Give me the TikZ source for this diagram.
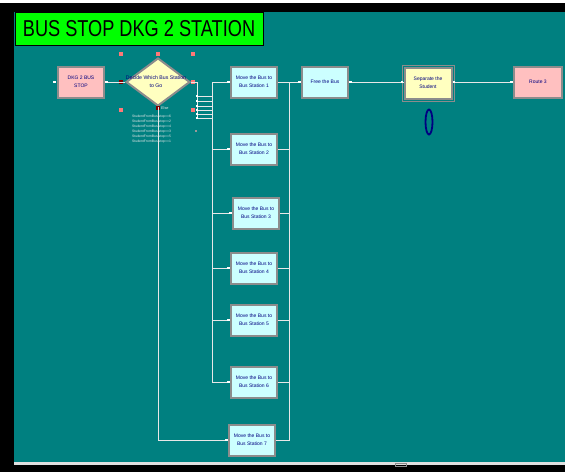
\documentclass[tikz,border=0pt]{standalone}
\usepackage{fontspec}
\setmainfont{Liberation Sans}
\usetikzlibrary{shapes.geometric,calc}
\definecolor{arteal}{HTML}{008080}
\definecolor{argreen}{HTML}{00FF00}
\definecolor{arpink}{HTML}{FFC0C0}
\definecolor{arcyan}{HTML}{CCFFFF}
\definecolor{aryellow}{HTML}{FFFFC0}
\definecolor{arblue}{HTML}{000080}
\definecolor{arframe}{HTML}{8C8C8C}
\definecolor{arline}{HTML}{E8E8E8}
\definecolor{arhandle}{HTML}{FF7878}
\tikzset{
  modbox/.style={draw=arframe,line width=2pt,minimum width=46pt,minimum height=31pt,
    inner sep=0pt,align=center,text=arblue,font=\fontsize{5}{8}\selectfont},
  movebox/.style={modbox,fill=arcyan},
  pinkbox/.style={modbox,fill=arpink},
  sepbox/.style={modbox,fill=aryellow,minimum width=47pt},
  decbox/.style={diamond,draw=arframe,line width=2pt,fill=aryellow,inner sep=0pt,
    minimum width=64pt,minimum height=48pt},
  declbl/.style={text=arblue,font=\fontsize{5.2}{8}\selectfont,align=center,inner sep=0pt},
  conn/.style={draw=arline,line width=0.9pt},
  port/.style={fill=white,minimum size=2.2pt,inner sep=0pt},
  handle/.style={fill=arhandle,minimum size=3.5pt,inner sep=0pt},
  condlbl/.style={text=arline,font=\fontsize{3.4}{4}\selectfont,inner sep=0pt,anchor=west},
}
\begin{document}
\begin{tikzpicture}[x=1pt,y=-1pt]
\useasboundingbox (0,0) rectangle (565,472);
% window frame
\fill[white] (0,0) rectangle (565,472);
\fill[black] (0,3) rectangle (565,472);
\fill[arteal] (14,12) rectangle (565,462);
\fill[black!12] (14,462) rectangle (565,465);
\draw[black!45,line width=0.6pt] (395,463) rectangle (406,466);
% title
\draw[fill=argreen,draw=black,line width=0.8pt] (15,12) rectangle (263,45);
\node[font=\fontsize{23}{23}\selectfont,inner sep=0pt] (title) at (139,28.5) {\scalebox{0.79}[1]{BUS STOP DKG 2 STATION}};
% modules
\node[pinkbox] (dkg) at (81,82) {DKG 2 BUS\\STOP};
\node[decbox] (dec) at (158,82) {};
\node[declbl] (declabel) at (156,82) {Decide Which Bus Station\\to Go};
\foreach \n/\xx/\yy in {1/254/82,2/254/149,3/256/213,4/254/268,5/254/320,6/254/382,7/252/440}{
  \node[movebox] (st\n) at (\xx,\yy) {Move the Bus to\\Bus Station \n};
}
\node[movebox] (free) at (325,82) {Free the Bus};
\node[sepbox] (sep) at (428,83) {Separate the\\Student};
\draw[arframe,line width=1pt] ($(sep.north west)+(-1.5,-1.5)$) -- ($(sep.north east)+(1.5,-1.5)$)
  -- ($(sep.south east)+(1.5,1.5)$) -- ($(sep.south west)+(-1.5,1.5)$) -- cycle;
\node[pinkbox,minimum width=48pt] (route) at (538,82) {Route 3};
\node[ellipse,draw=arblue,line width=1.8pt,minimum width=7pt,minimum height=25pt,inner sep=0pt] (count) at (429,122) {};
% selection handles of the decide module
\foreach \hx/\hy in {121/54,158/54,193/54,193/82,121/110,193/110}{
  \node[handle] at (\hx,\hy) {};
}
\node[handle,fill=red!50!black] (hleft) at (121,82) {};
\node[handle,fill=red!50!black] (hbot) at (158,108) {};
% conditions
\node[condlbl,font=\fontsize{3.8}{4}\selectfont] (elselbl) at (161,108) {Else};
\foreach \i/\c in {0/6,1/2,2/4,3/3,4/5,5/1}{
  \node[condlbl] (cond\c) at (132,117+5*\i) {StudentFromBus.stop==\c};
}
% connectors
\coordinate (dout) at (197,82);
\coordinate (fork) at (212,82);
\coordinate (join) at (289,82);
\draw[conn] (dkg.east) -- (dec.west);
\draw[conn] (dec.east) -- (dout) -- (197,119);
\foreach \yy in {96,101,106,110,114,118}{
  \draw[conn] (197,\yy) -- (212,\yy);
  \node[port] at (197,\yy) {};
}
\node[fill=black!40,minimum size=1.5pt,inner sep=0pt] (dot) at (196,131) {};
\foreach \n in {1,...,6}{
  \draw[conn] (fork) |- (st\n.west);
}
\draw[conn] (dec.south) |- (st7.west);
\foreach \n in {2,...,7}{
  \draw[conn] (st\n.east) -| (join);
}
\draw[conn] (st1.east) -- (free.west);
\draw[conn] (free.east) -- (free.east -| sep.west);
\draw[conn] (sep.east |- route.west) -- (route.west);
% entry and exit points
\foreach \m in {st1,st2,st3,st4,st5,st6,st7,free,route}{
  \node[port] at ([xshift=-1.5pt]\m.west) {};
}
\node[port] (sepin) at ([xshift=-1.5pt]free.east -| sep.west) {};
\foreach \m in {dkg,free}{
  \node[port] at ([xshift=1.5pt]\m.east) {};
}
\node[port] (sepout) at ([xshift=1.5pt]route.west -| sep.east) {};
\node[port] (dkgin) at ([xshift=-2.5pt]dkg.west) {};
\end{tikzpicture}
\end{document}
